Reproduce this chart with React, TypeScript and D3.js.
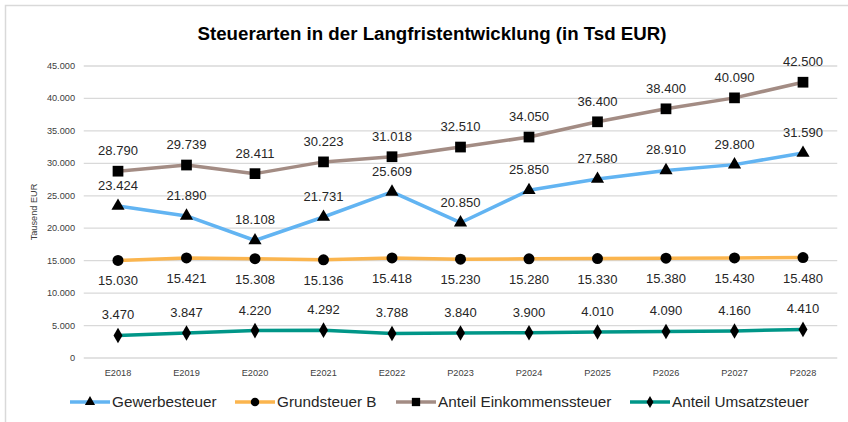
import React from "react";
import * as d3 from "d3";

const categories = ["E2018", "E2019", "E2020", "E2021", "E2022", "P2023", "P2024", "P2025", "P2026", "P2027", "P2028"];
const gewerbe = [23424, 21890, 18108, 21731, 25609, 20850, 25850, 27580, 28910, 29800, 31590];
const grund = [15030, 15421, 15308, 15136, 15418, 15230, 15280, 15330, 15380, 15430, 15480];
const einkommen = [28790, 29739, 28411, 30223, 31018, 32510, 34050, 36400, 38400, 40090, 42500];
const umsatz = [3470, 3847, 4220, 4292, 3788, 3840, 3900, 4010, 4090, 4160, 4410];
const yTicks = [0, 5000, 10000, 15000, 20000, 25000, 30000, 35000, 40000, 45000];

const series = [
  { name: "Gewerbesteuer", values: gewerbe, color: "#62b4f2", marker: "triangle", labelPos: "above" },
  { name: "Grundsteuer B", values: grund, color: "#fbb54e", marker: "circle", labelPos: "below" },
  { name: "Anteil Einkommenssteuer", values: einkommen, color: "#a38c84", marker: "square", labelPos: "above" },
  { name: "Anteil Umsatzsteuer", values: umsatz, color: "#009688", marker: "diamond", labelPos: "above" },
];

const fmt = (v: number) => d3.format(",")(v).replace(/,/g, ".");
const font = "'Liberation Sans', Arial, sans-serif";

function symbolType(type: string) {
  return type === "triangle" ? d3.symbolTriangle :
    type === "circle" ? d3.symbolCircle :
    type === "square" ? d3.symbolSquare : d3.symbolDiamond;
}

function markerPath(type: string, scale = 1) {
  const size = type === "triangle" ? 75 : type === "circle" ? 95 : type === "square" ? 115 : 70;
  return d3.symbol(symbolType(type), size * scale)() as string;
}

export default function App() {
  const W = 848, H = 422;
  const x = d3.scaleBand().domain(categories).range([83.75, 837.25]);
  const y = d3.scaleLinear().domain([0, 45000]).range([358, 66]);
  const cx = (c: string) => (x(c) as number) + x.bandwidth() / 2;
  const line = d3.line<number>().x((_, i) => cx(categories[i])).y(d => y(d));

  // legend line start positions
  const legendX = [70, 235, 396, 630];

  return (
    <svg width={W} height={H} style={{ position: "absolute", left: 0, top: 0 }} fontFamily={font}>
      <rect x={0} y={0} width={W} height={H} fill="#fff" />
      <rect x={5.5} y={5.5} width={W + 10} height={H + 10} fill="none" stroke="#d9d9d9" strokeWidth={1.5} />
      <text x={432} y={40} textAnchor="middle" fontSize={18.7} fontWeight="bold" fill="#000">
        Steuerarten in der Langfristentwicklung (in Tsd EUR)
      </text>
      {yTicks.map(t => (
        <g key={t}>
          <line x1={83.75} x2={837.25} y1={y(t)} y2={y(t)} stroke="#d9d9d9" strokeWidth={1.3} />
          <text x={75} y={y(t) + 3} textAnchor="end" fontSize={9.2} fill="#404040">{fmt(t)}</text>
        </g>
      ))}
      <text transform={`translate(37,${y(22500)}) rotate(-90)`} textAnchor="middle" fontSize={9.2} fill="#404040">
        Tausend EUR
      </text>
      {categories.map(c => (
        <text key={c} x={cx(c)} y={376} textAnchor="middle" fontSize={9.2} fill="#404040">{c}</text>
      ))}
      {series.map(s => (
        <g key={s.name}>
          <path d={line(s.values) as string} fill="none" stroke={s.color} strokeWidth={3.5} strokeLinejoin="round" />
          {s.values.map((v, i) => (
            <path key={i} d={markerPath(s.marker)} transform={`translate(${cx(categories[i])},${y(v)})`} fill="#000" />
          ))}
          {s.values.map((v, i) => (
            <text key={"l" + i} x={cx(categories[i])} y={s.labelPos === "above" ? y(v) - 16 : y(v) + 25}
              textAnchor="middle" fontSize={13} fill="#262626">{fmt(v)}</text>
          ))}
        </g>
      ))}
      {series.map((s, i) => (
        <g key={"lg" + s.name} transform={`translate(${legendX[i]},402)`}>
          <line x1={0} x2={40} y1={0} y2={0} stroke={s.color} strokeWidth={3.5} />
          <path d={markerPath(s.marker, 0.6)} transform="translate(20,0)" fill="#000" />
          <text x={42} y={5.3} fontSize={15.3} fill="#262626">{s.name}</text>
        </g>
      ))}
    </svg>
  );
}
